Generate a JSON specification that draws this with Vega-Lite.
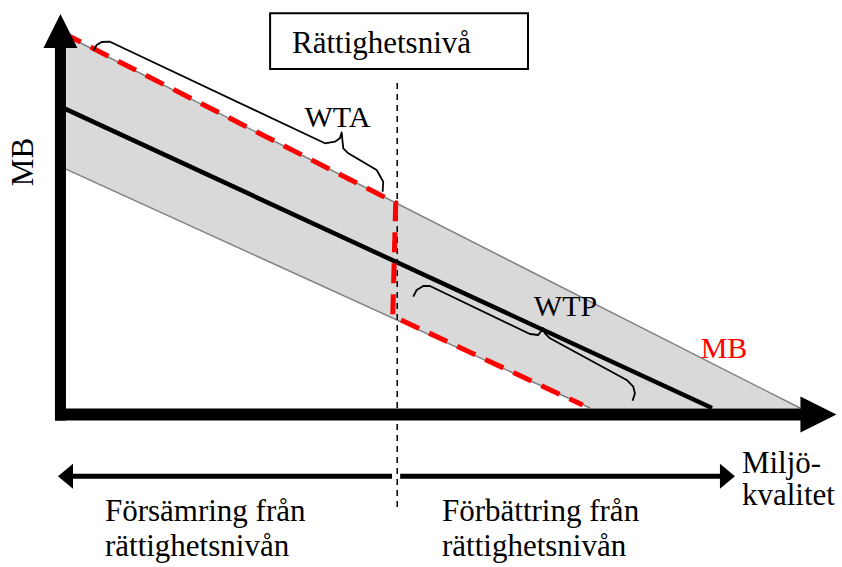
{
  "$schema": "https://vega.github.io/schema/vega-lite/v6.json",
  "width": 842,
  "height": 567,
  "padding": 0,
  "autosize": {"type": "none"},
  "background": "white",
  "config": {"view": {"stroke": null}},
  "datasets": {
    "band": [
      {"x": 0, "hi": 100, "lo": 64.3},
      {"x": 71.6, "hi": 28.4, "lo": 0},
      {"x": 100, "hi": 0, "lo": 0}
    ],
    "edges": [
      {"edge": "upper", "x": 0, "y": 100},
      {"edge": "upper", "x": 100, "y": 0},
      {"edge": "lower", "x": 0, "y": 64.3},
      {"edge": "lower", "x": 71.6, "y": 0}
    ],
    "mb": [
      {"x": 0, "y": 80.3},
      {"x": 88.1, "y": 0}
    ],
    "path": [
      {"i": 1, "x": 0.27, "y": 100},
      {"i": 2, "x": 45.3, "y": 54.7},
      {"i": 3, "x": 44.9, "y": 24.5},
      {"i": 4, "x": 70.6, "y": 0.8}
    ],
    "level": [{"x": 45.5, "y": 86.7, "y2": -27.7}],
    "braces": [
      {"brace": "WTA", "i": 1, "x": 4.37, "y": 95.28},
      {"brace": "WTA", "i": 2, "x": 4.83, "y": 96.8},
      {"brace": "WTA", "i": 3, "x": 5.51, "y": 97.6},
      {"brace": "WTA", "i": 4, "x": 6.63, "y": 97.68},
      {"brace": "WTA", "i": 5, "x": 35.72, "y": 70.59},
      {"brace": "WTA", "i": 6, "x": 37.08, "y": 71.01},
      {"brace": "WTA", "i": 7, "x": 37.75, "y": 71.92},
      {"brace": "WTA", "i": 8, "x": 37.98, "y": 73.5},
      {"brace": "WTA", "i": 9, "x": 38.2, "y": 69.25},
      {"brace": "WTA", "i": 10, "x": 38.88, "y": 67.92},
      {"brace": "WTA", "i": 11, "x": 42.72, "y": 63.47},
      {"brace": "WTA", "i": 12, "x": 43.61, "y": 60.35},
      {"brace": "WTA", "i": 13, "x": 43.53, "y": 57.68},
      {"brace": "WTP", "i": 1, "x": 47.67, "y": 29.68},
      {"brace": "WTP", "i": 2, "x": 48.13, "y": 31.47},
      {"brace": "WTP", "i": 3, "x": 49.03, "y": 32.53},
      {"brace": "WTP", "i": 4, "x": 49.93, "y": 32.53},
      {"brace": "WTP", "i": 5, "x": 63.46, "y": 19.73},
      {"brace": "WTP", "i": 6, "x": 64.59, "y": 19.47},
      {"brace": "WTP", "i": 7, "x": 65.26, "y": 21.25},
      {"brace": "WTP", "i": 8, "x": 65.49, "y": 19.92},
      {"brace": "WTP", "i": 9, "x": 66.17, "y": 18.59},
      {"brace": "WTP", "i": 10, "x": 76.55, "y": 7.47},
      {"brace": "WTP", "i": 11, "x": 77.44, "y": 5.68},
      {"brace": "WTP", "i": 12, "x": 77.67, "y": 3.92},
      {"brace": "WTP", "i": 13, "x": 77.36, "y": 1.95}
    ],
    "xbar": [{"x": -0.81, "x2": 100.7, "y": -1.73}],
    "ybar": [{"x": -0.07, "y": -3.33, "y2": 96.8}],
    "xhead": [{"x": 102.5, "y": -1.73}],
    "yhead": [{"x": -0.07, "y": 100.53}],
    "shafts": [
      {"x": 1.22, "x2": 44.8, "y": -18.2},
      {"x": 45.9, "x2": 89.8, "y": -18.2}
    ],
    "lhead": [{"x": 0.61, "y": -18.2}],
    "rhead": [{"x": 90.19, "y": -18.2}],
    "box": [{"x": 28.3, "x2": 63.2, "y": 105.3, "y2": 90.4}],
    "leftText": [
      {"label": "Rättighetsnivå", "x": 31.26, "y": 94.67},
      {"label": "Miljö-", "x": 92.15, "y": -17.33},
      {"label": "kvalitet", "x": 92.15, "y": -25.87},
      {"label": "Försämring från", "x": 5.95, "y": -30.13},
      {"label": "rättighetsnivån", "x": 5.95, "y": -39.47},
      {"label": "Förbättring från", "x": 51.56, "y": -30.13},
      {"label": "rättighetsnivån", "x": 51.56, "y": -39.47}
    ],
    "centerText": [
      {"label": "WTA", "x": 37.42, "y": 74.93},
      {"label": "WTP", "x": 68.27, "y": 24.53}
    ],
    "redText": [{"label": "MB", "x": 89.72, "y": 13.33}],
    "yTitle": [{"label": "MB", "x": -3.79, "y": 65.6}]
  },
  "layer": [
    {
      "data": {"name": "band"},
      "mark": {"type": "area", "color": "#d9d9d9", "opacity": 1},
      "encoding": {
        "x": {"field": "x", "type": "quantitative", "scale": {"domain": [-8.25, 105.69], "nice": false, "zero": false}, "axis": null},
        "y": {"field": "hi", "type": "quantitative", "scale": {"domain": [-42.4, 108.8], "nice": false, "zero": false}, "axis": null},
        "y2": {"field": "lo"}
      }
    },
    {
      "data": {"name": "edges"},
      "mark": {"type": "line", "color": "#808080", "strokeWidth": 1.5},
      "encoding": {
        "x": {"field": "x", "type": "quantitative", "scale": {"domain": [-8.25, 105.69], "nice": false, "zero": false}, "axis": null},
        "y": {"field": "y", "type": "quantitative", "scale": {"domain": [-42.4, 108.8], "nice": false, "zero": false}, "axis": null},
        "detail": {"field": "edge"}
      }
    },
    {
      "data": {"name": "mb"},
      "mark": {"type": "line", "color": "black", "strokeWidth": 4.5},
      "encoding": {
        "x": {"field": "x", "type": "quantitative", "scale": {"domain": [-8.25, 105.69], "nice": false, "zero": false}, "axis": null},
        "y": {"field": "y", "type": "quantitative", "scale": {"domain": [-42.4, 108.8], "nice": false, "zero": false}, "axis": null}
      }
    },
    {
      "data": {"name": "level"},
      "mark": {"type": "rule", "color": "black", "strokeWidth": 1.5, "strokeDash": [6, 5]},
      "encoding": {
        "x": {"field": "x", "type": "quantitative", "scale": {"domain": [-8.25, 105.69], "nice": false, "zero": false}, "axis": null},
        "y": {"field": "y", "type": "quantitative", "scale": {"domain": [-42.4, 108.8], "nice": false, "zero": false}, "axis": null},
        "y2": {"field": "y2"}
      }
    },
    {
      "data": {"name": "path"},
      "mark": {"type": "line", "color": "#ff0000", "strokeWidth": 5, "strokeDash": [20, 11]},
      "encoding": {
        "x": {"field": "x", "type": "quantitative", "scale": {"domain": [-8.25, 105.69], "nice": false, "zero": false}, "axis": null},
        "y": {"field": "y", "type": "quantitative", "scale": {"domain": [-42.4, 108.8], "nice": false, "zero": false}, "axis": null},
        "order": {"field": "i", "type": "quantitative"}
      }
    },
    {
      "data": {"name": "braces"},
      "mark": {"type": "line", "color": "black", "strokeWidth": 1.8, "strokeJoin": "round"},
      "encoding": {
        "x": {"field": "x", "type": "quantitative", "scale": {"domain": [-8.25, 105.69], "nice": false, "zero": false}, "axis": null},
        "y": {"field": "y", "type": "quantitative", "scale": {"domain": [-42.4, 108.8], "nice": false, "zero": false}, "axis": null},
        "detail": {"field": "brace"},
        "order": {"field": "i", "type": "quantitative"}
      }
    },
    {
      "data": {"name": "xbar"},
      "mark": {"type": "rule", "color": "black", "strokeWidth": 12},
      "encoding": {
        "x": {"field": "x", "type": "quantitative", "scale": {"domain": [-8.25, 105.69], "nice": false, "zero": false}, "axis": null},
        "x2": {"field": "x2"},
        "y": {"field": "y", "type": "quantitative", "scale": {"domain": [-42.4, 108.8], "nice": false, "zero": false}, "axis": null}
      }
    },
    {
      "data": {"name": "ybar"},
      "mark": {"type": "rule", "color": "black", "strokeWidth": 11},
      "encoding": {
        "x": {"field": "x", "type": "quantitative", "scale": {"domain": [-8.25, 105.69], "nice": false, "zero": false}, "axis": null},
        "y": {"field": "y", "type": "quantitative", "scale": {"domain": [-42.4, 108.8], "nice": false, "zero": false}, "axis": null},
        "y2": {"field": "y2"}
      }
    },
    {
      "data": {"name": "xhead"},
      "mark": {"type": "point", "shape": "M-1,-1L1,0L-1,1Z", "size": 1296, "filled": true, "color": "black", "opacity": 1, "strokeWidth": 0},
      "encoding": {
        "x": {"field": "x", "type": "quantitative", "scale": {"domain": [-8.25, 105.69], "nice": false, "zero": false}, "axis": null},
        "y": {"field": "y", "type": "quantitative", "scale": {"domain": [-42.4, 108.8], "nice": false, "zero": false}, "axis": null}
      }
    },
    {
      "data": {"name": "yhead"},
      "mark": {"type": "point", "shape": "M0,-1L1,1L-1,1Z", "size": 1156, "filled": true, "color": "black", "opacity": 1, "strokeWidth": 0},
      "encoding": {
        "x": {"field": "x", "type": "quantitative", "scale": {"domain": [-8.25, 105.69], "nice": false, "zero": false}, "axis": null},
        "y": {"field": "y", "type": "quantitative", "scale": {"domain": [-42.4, 108.8], "nice": false, "zero": false}, "axis": null}
      }
    },
    {
      "data": {"name": "shafts"},
      "mark": {"type": "rule", "color": "black", "strokeWidth": 5},
      "encoding": {
        "x": {"field": "x", "type": "quantitative", "scale": {"domain": [-8.25, 105.69], "nice": false, "zero": false}, "axis": null},
        "x2": {"field": "x2"},
        "y": {"field": "y", "type": "quantitative", "scale": {"domain": [-42.4, 108.8], "nice": false, "zero": false}, "axis": null}
      }
    },
    {
      "data": {"name": "lhead"},
      "mark": {"type": "point", "shape": "M-0.6,0L0.6,-1L0.6,1Z", "size": 625, "filled": true, "color": "black", "opacity": 1, "strokeWidth": 0},
      "encoding": {
        "x": {"field": "x", "type": "quantitative", "scale": {"domain": [-8.25, 105.69], "nice": false, "zero": false}, "axis": null},
        "y": {"field": "y", "type": "quantitative", "scale": {"domain": [-42.4, 108.8], "nice": false, "zero": false}, "axis": null}
      }
    },
    {
      "data": {"name": "rhead"},
      "mark": {"type": "point", "shape": "M0.6,0L-0.6,-1L-0.6,1Z", "size": 625, "filled": true, "color": "black", "opacity": 1, "strokeWidth": 0},
      "encoding": {
        "x": {"field": "x", "type": "quantitative", "scale": {"domain": [-8.25, 105.69], "nice": false, "zero": false}, "axis": null},
        "y": {"field": "y", "type": "quantitative", "scale": {"domain": [-42.4, 108.8], "nice": false, "zero": false}, "axis": null}
      }
    },
    {
      "data": {"name": "box"},
      "mark": {"type": "rect", "fill": "white", "stroke": "black", "strokeWidth": 2},
      "encoding": {
        "x": {"field": "x", "type": "quantitative", "scale": {"domain": [-8.25, 105.69], "nice": false, "zero": false}, "axis": null},
        "x2": {"field": "x2"},
        "y": {"field": "y", "type": "quantitative", "scale": {"domain": [-42.4, 108.8], "nice": false, "zero": false}, "axis": null},
        "y2": {"field": "y2"}
      }
    },
    {
      "data": {"name": "leftText"},
      "mark": {"type": "text", "font": "Liberation Serif", "fontSize": 31, "align": "left", "baseline": "alphabetic", "color": "black"},
      "encoding": {
        "x": {"field": "x", "type": "quantitative", "scale": {"domain": [-8.25, 105.69], "nice": false, "zero": false}, "axis": null},
        "y": {"field": "y", "type": "quantitative", "scale": {"domain": [-42.4, 108.8], "nice": false, "zero": false}, "axis": null},
        "text": {"field": "label"}
      }
    },
    {
      "data": {"name": "centerText"},
      "mark": {"type": "text", "font": "Liberation Serif", "fontSize": 30, "align": "center", "baseline": "alphabetic", "color": "black"},
      "encoding": {
        "x": {"field": "x", "type": "quantitative", "scale": {"domain": [-8.25, 105.69], "nice": false, "zero": false}, "axis": null},
        "y": {"field": "y", "type": "quantitative", "scale": {"domain": [-42.4, 108.8], "nice": false, "zero": false}, "axis": null},
        "text": {"field": "label"}
      }
    },
    {
      "data": {"name": "redText"},
      "mark": {"type": "text", "font": "Liberation Serif", "fontSize": 30, "align": "center", "baseline": "alphabetic", "color": "#ff0000"},
      "encoding": {
        "x": {"field": "x", "type": "quantitative", "scale": {"domain": [-8.25, 105.69], "nice": false, "zero": false}, "axis": null},
        "y": {"field": "y", "type": "quantitative", "scale": {"domain": [-42.4, 108.8], "nice": false, "zero": false}, "axis": null},
        "text": {"field": "label"}
      }
    },
    {
      "data": {"name": "yTitle"},
      "mark": {"type": "text", "font": "Liberation Serif", "fontSize": 31, "align": "center", "baseline": "alphabetic", "angle": 270, "color": "black"},
      "encoding": {
        "x": {"field": "x", "type": "quantitative", "scale": {"domain": [-8.25, 105.69], "nice": false, "zero": false}, "axis": null},
        "y": {"field": "y", "type": "quantitative", "scale": {"domain": [-42.4, 108.8], "nice": false, "zero": false}, "axis": null},
        "text": {"field": "label"}
      }
    }
  ]
}
